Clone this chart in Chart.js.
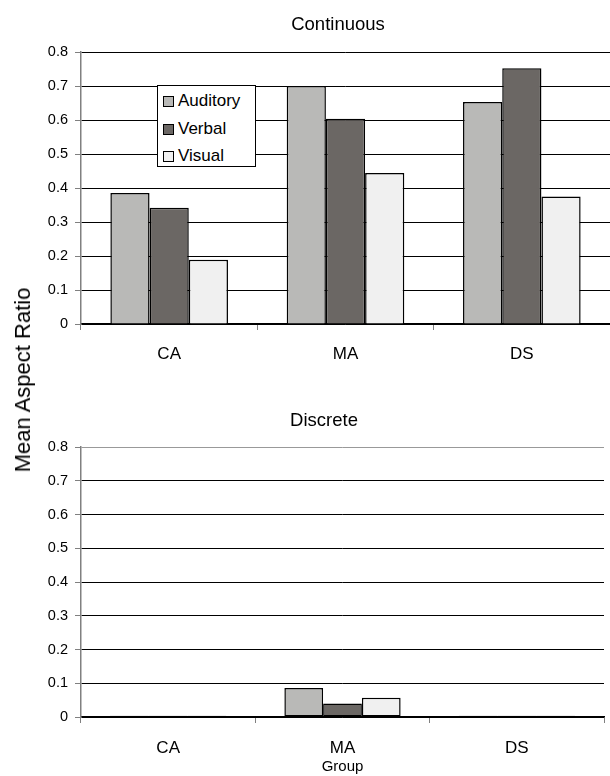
<!DOCTYPE html>
<html>
<head>
<meta charset="utf-8">
<script src="https://cdn.jsdelivr.net/npm/chart.js@4.4.1/dist/chart.umd.min.js"></script>
<style>
  html, body { margin: 0; padding: 0; background: #fff; }
  body { width: 610px; height: 776px; position: relative; overflow: hidden; font-family: "Liberation Sans", Arial, sans-serif; }
  .wrap { position: absolute; left: 0; width: 610px; }
  .ctitle { position: absolute; transform: translate(-50%, -50%); font-size: 18.5px; white-space: nowrap; color: #000; line-height: 1; }
  #ytitle { position: absolute; left: 23px; top: 380px; transform: translate(-50%, -50%) rotate(-90deg); font-size: 22px; white-space: nowrap; color: #000; line-height: 1; }
  #legend { position: absolute; left: 157px; top: 85px; width: 97px; height: 80px; border: 1.5px solid #000; background: #fff; }
  .li { position: absolute; left: 5px; height: 20px; font-size: 17px; line-height: 20px; color: #000; white-space: nowrap; }
  .sw { display: inline-block; width: 9px; height: 9px; border: 1.5px solid #000; margin-right: 4px; vertical-align: -1px; }
</style>
</head>
<body>
<div class="wrap" style="top:0;height:385px"><canvas id="c1"></canvas></div>
<div class="wrap" style="top:390px;height:386px"><canvas id="c2"></canvas></div>
<div class="ctitle" id="t1" style="left:338px;top:24px"></div>
<div class="ctitle" id="t2" style="left:324px;top:420px"></div>
<div id="ytitle">Mean Aspect Ratio</div>
<div id="legend"></div>
<script>
const chartTitles = ["Continuous", "Discrete"];
const categories = ["CA", "MA", "DS"];
const seriesNames = ["Auditory", "Verbal", "Visual"];
const yTicks = [0, 0.1, 0.2, 0.3, 0.4, 0.5, 0.6, 0.7, 0.8];

// Continuous
const contAuditory = [0.385, 0.700, 0.653];
const contVerbal   = [0.342, 0.604, 0.752];
const contVisual   = [0.189, 0.444, 0.375];

// Discrete
const discAuditory = [0.004, 0.086, 0.004];
const discVerbal   = [0.004, 0.040, 0.004];
const discVisual   = [0.004, 0.057, 0.004];

const colors = ["#b9b9b7", "#6b6764", "#f0f0f0"];
const FONT = "'Liberation Sans', Arial, sans-serif";

document.getElementById("t1").textContent = chartTitles[0];
document.getElementById("t2").textContent = chartTitles[1];

function datasets(vals, skip) {
  return vals.map((v, i) => ({
    label: seriesNames[i],
    data: v,
    backgroundColor: colors[i],
    borderColor: "#000",
    borderWidth: 1.5,
    borderSkipped: skip,
    categoryPercentage: 0.667,
    barPercentage: 1.0
  }));
}

function makeChart(id, vals, opts) {
  return new Chart(document.getElementById(id), {
    type: "bar",
    data: { labels: categories, datasets: datasets(vals, opts.skip) },
    options: {
      responsive: true,
      maintainAspectRatio: false,
      animation: false,
      events: [],
      layout: { padding: { left: 0, right: opts.right, top: opts.top, bottom: 0 } },
      plugins: {
        legend: { display: false },
        tooltip: { enabled: false },
        title: { display: false }
      },
      scales: {
        x: {
          grid: {
            offset: true,
            drawOnChartArea: true,
            color: ctx => (opts.rightBorder && ctx.index === 3) ? "#888" : "rgba(0,0,0,0)",
            tickColor: "#808080",
            tickLength: 6,
            lineWidth: 1
          },
          border: { display: true, color: "#000", width: 1.5 },
          ticks: { color: "#000", font: { family: FONT, size: 17 }, padding: opts.xPad },
          title: opts.xTitle ? { display: true, text: opts.xTitle, color: "#000", font: { family: FONT, size: 15 }, padding: { top: 0, bottom: 0 } } : { display: false },
          afterFit: s => { s.height = opts.xHeight; }
        },
        y: {
          min: 0, max: 0.8,
          afterBuildTicks: s => { s.ticks = yTicks.map(v => ({ value: v })); },
          grid: {
            color: ctx => (opts.grayTop && ctx.tick && ctx.tick.value === 0.8) ? "#999" : "#000",
            tickColor: "#808080",
            tickLength: 6,
            lineWidth: 1
          },
          border: { display: true, color: "#808080", width: 1.5 },
          ticks: { color: "#000", font: { family: FONT, size: 14.5 }, padding: 7, callback: v => String(v) },
          afterFit: s => { s.width = 81; }
        }
      }
    }
  });
}

makeChart("c1", [contAuditory, contVerbal, contVisual],
  { right: 0, top: 52, xPad: 14, xHeight: 61, rightBorder: false, grayTop: false, skip: "start" });
makeChart("c2", [discAuditory, discVerbal, discVisual],
  { right: 6, top: 57, xPad: 15, xHeight: 59, rightBorder: true, grayTop: true, xTitle: "Group", skip: false });

// Legend built from the series arrays
const leg = document.getElementById("legend");
const rowTops = [5, 33, 60];
seriesNames.forEach((n, i) => {
  const d = document.createElement("div");
  d.className = "li";
  d.style.top = rowTops[i] + "px";
  d.innerHTML = '<span class="sw" style="background:' + colors[i] + '"></span>' + n;
  leg.appendChild(d);
});
</script>
</body>
</html>
